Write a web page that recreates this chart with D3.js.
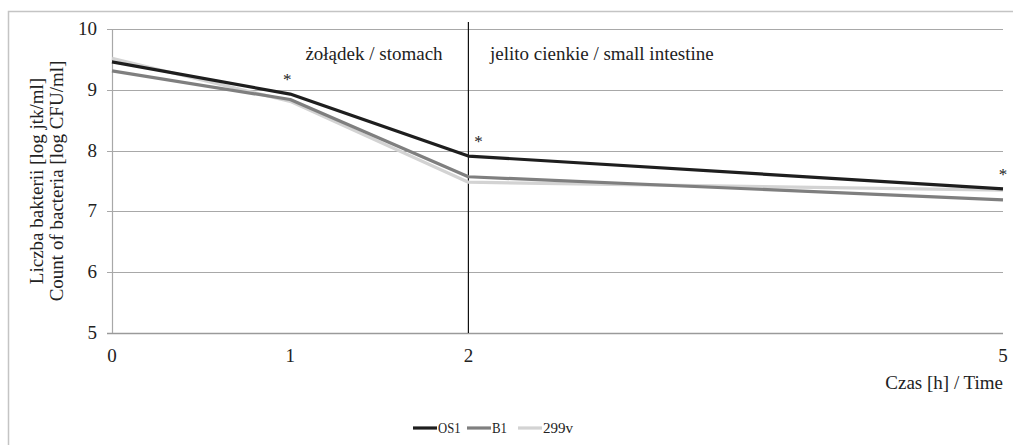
<!DOCTYPE html>
<html>
<head>
<meta charset="utf-8">
<script src="https://cdn.jsdelivr.net/npm/d3@7"></script>
<style>
  body { margin: 0; background: #fff; }
  text { font-family: "Liberation Serif", "Times New Roman", serif; fill: #222; }
</style>
</head>
<body>
<svg width="1013" height="445"></svg>
<script>
var WIDTH = 1013;
var HEIGHT = 445;

// time points (h)
var hours = [0, 1, 2, 5];
var seriesNames = ['OS1', 'B1', '299v'];
var seriesColors = ['#1e1e1e', '#7f7f7f', '#d3d3d3'];
var os1 = [9.46, 8.93, 7.91, 7.37];
var b1 = [9.31, 8.84, 7.57, 7.19];
var v299 = [9.52, 8.81, 7.48, 7.35];
var yTicks = [5, 6, 7, 8, 9, 10];
var starHours = [1, 2, 5]; // significance marks above OS1

var seriesValues = [os1, b1, v299];

var svg = d3.select('svg')
    .attr('width', WIDTH)
    .attr('height', HEIGHT);

// outer frame (only top and left edges visible)
svg.append('rect')
    .attr('x', 8.5).attr('y', 11.5)
    .attr('width', WIDTH).attr('height', HEIGHT)
    .attr('fill', 'none')
    .attr('stroke', '#c4c4c4')
    .attr('stroke-width', 1.5);

var x = d3.scaleLinear().domain([0, 5]).range([112, 1003]);
var y = d3.scaleLinear().domain([5, 10]).range([333, 29]);

// gridlines
svg.append('g').selectAll('line')
    .data(yTicks)
    .enter().append('line')
    .attr('x1', x(0) - 5).attr('x2', x(5))
    .attr('y1', function(d) { return Math.round(y(d)) + 0.5; })
    .attr('y2', function(d) { return Math.round(y(d)) + 0.5; })
    .attr('stroke', function(d) { return d === 5 ? '#9a9a9a' : '#a8a8a8'; })
    .attr('stroke-width', function(d) { return d === 5 ? 1.5 : 1.2; });

// y axis line
svg.append('line')
    .attr('x1', x(0) + 0.5).attr('x2', x(0) + 0.5)
    .attr('y1', y(10)).attr('y2', y(5))
    .attr('stroke', '#a8a8a8').attr('stroke-width', 1.2);

// y tick labels
svg.append('g').selectAll('text')
    .data(yTicks)
    .enter().append('text')
    .attr('x', 97)
    .attr('y', function(d) { return y(d) + 6; })
    .attr('text-anchor', 'end')
    .style('font-size', '19px')
    .text(function(d) { return d; });

// x tick labels
svg.append('g').selectAll('text')
    .data(hours)
    .enter().append('text')
    .attr('x', function(d) { return x(d); })
    .attr('y', 362)
    .attr('text-anchor', 'middle')
    .style('font-size', '19px')
    .text(function(d) { return d; });

// stomach / intestine divider
svg.append('line')
    .attr('x1', x(2)).attr('x2', x(2))
    .attr('y1', 22).attr('y2', y(5))
    .attr('stroke', '#111').attr('stroke-width', 1.2);

svg.append('text')
    .attr('x', 374).attr('y', 60)
    .attr('text-anchor', 'middle')
    .style('font-size', '19px')
    .text('żołądek / stomach');

svg.append('text')
    .attr('x', 490).attr('y', 60)
    .style('font-size', '19px')
    .text('jelito cienkie / small intestine');

// lines
var line = d3.line()
    .x(function(d, i) { return x(hours[i]); })
    .y(function(d) { return y(d); });

// draw light first so dark sits on top
[2, 1, 0].forEach(function(k) {
    svg.append('path')
        .datum(seriesValues[k])
        .attr('d', line)
        .attr('fill', 'none')
        .attr('stroke', seriesColors[k])
        .attr('stroke-width', 3.2)
        .attr('stroke-linejoin', 'round');
});

// asterisks
svg.append('g').selectAll('text')
    .data(starHours)
    .enter().append('text')
    .attr('x', function(d) { return d === 5 ? x(d) : (d === 2 ? x(d) + 10 : x(d) - 3); })
    .attr('y', function(d) { return y(os1[hours.indexOf(d)]) - 9; })
    .attr('text-anchor', 'middle')
    .style('font-size', '17px')
    .text('*');

// axis titles
var yTitle = svg.append('text')
    .attr('transform', 'translate(43,181) rotate(-90)')
    .attr('text-anchor', 'middle')
    .style('font-size', '19px');
yTitle.append('tspan').attr('x', 0).attr('dy', 0).text('Liczba bakterii [log jtk/ml]');
yTitle.append('tspan').attr('x', 0).attr('dy', 20).text('Count of bacteria [log CFU/ml]');

svg.append('text')
    .attr('x', 1003).attr('y', 389)
    .attr('text-anchor', 'end')
    .style('font-size', '19px')
    .text('Czas [h] / Time');

// legend
var legendX = [413, 467, 518];
var legend = svg.append('g').selectAll('g')
    .data(seriesNames)
    .enter().append('g')
    .attr('transform', function(d, i) { return 'translate(' + legendX[i] + ',428)'; });

legend.append('line')
    .attr('x1', 0).attr('x2', 24)
    .attr('y1', 0).attr('y2', 0)
    .attr('stroke', function(d, i) { return seriesColors[i]; })
    .attr('stroke-width', 3.2);

legend.append('text')
    .attr('x', 25).attr('y', 5)
    .style('font-size', '15px')
    .attr('textLength', function(d) { return d.length * 7.5; })
    .attr('lengthAdjust', 'spacingAndGlyphs')
    .text(function(d) { return d; });
</script>
</body>
</html>
